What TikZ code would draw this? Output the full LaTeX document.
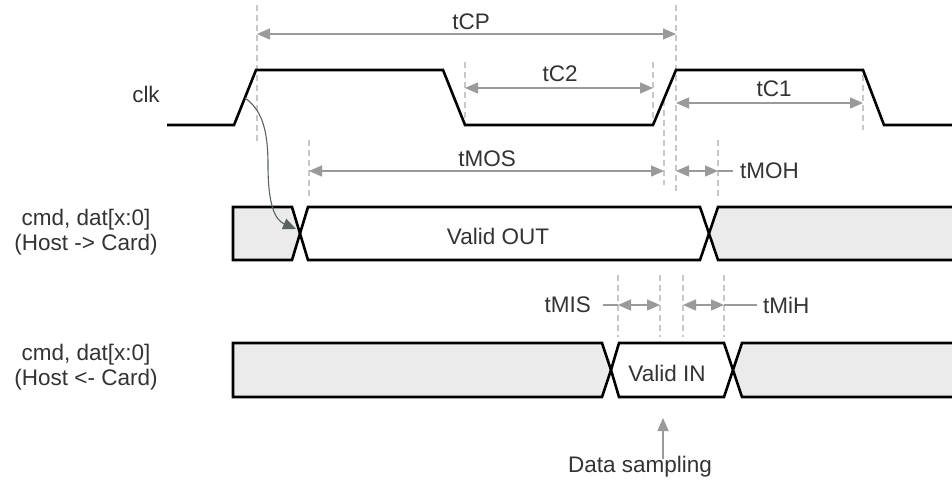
\documentclass[tikz,border=0pt]{standalone}
\usepackage{fontspec}
\setmainfont{Liberation Sans}
\usetikzlibrary{arrows.meta}
\definecolor{txt}{HTML}{333333}
\definecolor{dimc}{HTML}{9A9A9A}
\definecolor{dashc}{HTML}{C8C8C8}
\definecolor{boxfill}{HTML}{EBEBEB}
\definecolor{curvec}{HTML}{5A6262}
\tikzset{
  sig/.style={line width=2.6pt, black, line join=miter},
  sigbox/.style={sig, fill=boxfill},
  guide/.style={dashc, line width=1.2pt, dash pattern=on 6pt off 4pt},
  dimarrow/.style={dimc, line width=1.5pt, {Triangle[length=13pt,width=11pt]}-{Triangle[length=13pt,width=11pt]}},
  dimline/.style={dimc, line width=1.5pt},
  lbl/.style={inner sep=0pt, text=txt},
}
\begin{document}
\begin{tikzpicture}[x=1pt,y=-1pt,font=\fontsize{22.5}{25}\selectfont]
\path[use as bounding box] (0,0) rectangle (952,487);
\clip (0,0) rectangle (952,487);
\fill[white] (0,0) rectangle (952,487);

% guide lines
\draw[guide] (257,5) -- (257,143);
\draw[guide] (465,62) -- (465,125);
\draw[guide] (653,62) -- (653,125);
\draw[guide] (664,100) -- (664,185);
\draw[guide] (676,5) -- (676,192);
\draw[guide] (863,75) -- (863,130);
\draw[guide] (309,140) -- (309,200);
\draw[guide] (718,140) -- (718,200);
\draw[guide] (618,275) -- (618,337);
\draw[guide] (660,275) -- (660,337);
\draw[guide] (683,275) -- (683,337);
\draw[guide] (724,275) -- (724,337);

% labels
\node[lbl] (clk) at (146,94) {clk};
\node[lbl, align=center] (out) at (86,232) {cmd, dat[x:0]\\(Host -> Card)};
\node[lbl, align=center] (in) at (86,367) {cmd, dat[x:0]\\(Host <- Card)};

% clock
\draw[sig] (167,125) -- (234,125) -- (256,70) -- (443,70) -- (465,125) -- (653,125) -- (676,70) -- (863,70) -- (884,125) -- (960,125);

% host -> card
\draw[sigbox] (233,207) -- (292,207) -- (300,233.5) -- (292,260) -- (233,260) -- cycle;
\draw[sig] (300,233.5) -- (308,207) -- (700,207) -- (709,233.5) -- (700,260) -- (308,260) -- cycle;
\draw[sigbox] (709,233.5) -- (718,207) -- (965,207) -- (965,260) -- (718,260) -- cycle;
\node[lbl] (vout) at (498,236) {Valid OUT};

% host <- card
\draw[sigbox] (233,343) -- (602,343) -- (611,370) -- (602,397) -- (233,397) -- cycle;
\draw[sig] (611,370) -- (619,343) -- (724,343) -- (733,370) -- (724,397) -- (619,397) -- cycle;
\draw[sigbox] (733,370) -- (742,343) -- (965,343) -- (965,397) -- (742,397) -- cycle;
\node[lbl] (vin) at (667,373) {Valid IN};

% dimensions
\coordinate (cpL) at (257,34); \coordinate (cpR) at (676,34);
\draw[dimarrow] (cpL) -- (cpR);
\node[lbl] (tcp) at (471,22) {tCP};

\coordinate (c2L) at (465,88); \coordinate (c2R) at (653,88);
\draw[dimarrow] (c2L) -- (c2R);
\node[lbl] (tc2) at (560,74) {tC2};

\coordinate (c1L) at (676,103); \coordinate (c1R) at (863,103);
\draw[dimarrow] (c1L) -- (c1R);
\node[lbl] (tc1) at (774,89) {tC1};

\coordinate (mosL) at (309,171); \coordinate (mosR) at (664,171);
\draw[dimarrow] (mosL) -- (mosR);
\node[lbl] (tmos) at (487,159) {tMOS};

\coordinate (mohL) at (676,171); \coordinate (mohR) at (718,171);
\node[lbl, anchor=west] (tmoh) at (740,171) {tMOH};
\draw[dimline] (mohR) -- ([xshift=-7pt]tmoh.west);
\draw[dimarrow] (mohL) -- (mohR);

\coordinate (misL) at (618,305); \coordinate (misR) at (660,305);
\node[lbl, anchor=east] (tmis) at (591,305) {tMIS};
\draw[dimline] ([xshift=12pt]tmis.east) -- (misL);
\draw[dimarrow] (misL) -- (misR);

\coordinate (mihL) at (683,305); \coordinate (mihR) at (724,305);
\node[lbl, anchor=west] (tmih) at (763,305) {tMiH};
\draw[dimline] (mihR) -- ([xshift=-6pt]tmih.west);
\draw[dimarrow] (mihL) -- (mihR);

% data sampling
\node[lbl] (ds) at (640,467) {Data sampling};
\coordinate (dsTip) at (663,418);
\draw[dimc, line width=1.5pt, -{Triangle[length=13pt,width=11pt]}] ([xshift=23pt,yshift=-3pt]ds.north) -- (dsTip);

% causal curve
\coordinate (cs) at (245,98);
\coordinate (ce) at (296,229);
\draw[curvec, line width=1.1pt, -{Triangle[length=13pt,width=11pt]}] (cs) .. controls (262,110) and (268,130) .. (268,165) .. controls (268,205) and (275,220) .. (ce);
\end{tikzpicture}
\end{document}
